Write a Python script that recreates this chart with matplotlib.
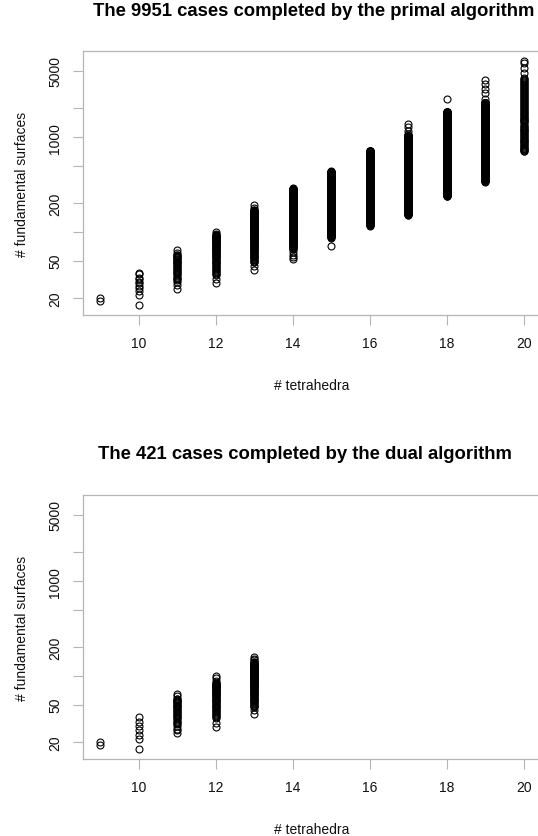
import matplotlib

matplotlib.use("Agg")
import matplotlib.pyplot as plt
from matplotlib.ticker import NullLocator

plt.rcParams["font.family"] = ["Liberation Sans", "DejaVu Sans"]

W, H = 538, 837
GRAY = "#b5b5b5"

tetrahedra = [9, 10, 11, 12, 13, 14, 15, 16, 17, 18, 19, 20]

# solid stacks of counts (every count from low to high shows up), 0 = none
primal_run_low = [0, 0, 30, 35, 48, 66, 87, 117, 152, 240, 347, 0]
primal_run_high = [0, 0, 58, 95, 170, 285, 432, 716, 1035, 1826, 2287, 0]
# separate circles
primal_single = [
    [19, 20],
    [17, 22, 24, 26, 27, 29, 30, 32, 33, 36, 37],
    [25, 28, 60, 64],
    [29, 32, 101],
    [40, 44, 180, 192],
    [52, 55, 58, 61, 290],
    [72, 444],
    [],
    [1077, 1165, 1263, 1367],
    [2541],
    [340, 2541, 2882, 3242, 3660, 4022],
    [705, 715, 728, 740, 755, 770, 785, 800, 820, 840, 860, 880, 900, 920,
     940, 960, 980, 1000, 1025, 1050, 1075, 1100, 1125, 1150, 1175, 1200,
     1230, 1260, 1290, 1320, 1355, 1390, 1425, 1460, 1495, 1530, 1565, 1600,
     1640, 1680, 1720, 1760, 1805, 1850, 1895, 1940, 1990, 2040, 2090, 2140,
     2195, 2250, 2305, 2360, 2420, 2480, 2540, 2600, 2665, 2730, 2800, 2870,
     2940, 3010, 3085, 3160, 3240, 3320, 3405, 3490, 3575, 3660, 3750, 3840,
     3935, 4030, 4125, 4222, 4745, 5342, 5980, 6350],
]

dual_run_low = [0, 0, 30, 36, 47, 0, 0, 0, 0, 0, 0, 0]
dual_run_high = [0, 0, 58, 85, 140, 0, 0, 0, 0, 0, 0, 0]
dual_single = [
    [19, 20],
    [17, 22, 24, 27, 30, 33, 37],
    [25, 27, 28, 61, 64],
    [29, 32, 88, 95, 101],
    [40, 44, 148, 153, 158],
    [], [], [], [], [], [], [],
]

y_ticks = [20, 50, 100, 200, 500, 1000, 2000, 5000]
y_tick_labels = ["20", "50", "", "200", "", "1000", "", "5000"]
x_ticks = [10, 12, 14, 16, 18, 20]


def column_points(run_low, run_high, single):
    xs, ys = [], []
    for x, lo, hi, extra in zip(tetrahedra, run_low, run_high, single):
        vals = list(extra)
        if hi:
            vals += list(range(lo, hi + 1))
        xs += [x] * len(vals)
        ys += vals
    return xs, ys


def draw_panel(fig, top_px, bottom_px, title, title_x, run_low, run_high, single):
    left_px, right_px = 83, 541
    ax = fig.add_axes([left_px / W, 1 - bottom_px / H,
                       (right_px - left_px) / W, (bottom_px - top_px) / H])
    xs, ys = column_points(run_low, run_high, single)
    ax.plot(xs, ys, "o", ms=5, mfc="none", mec="black", mew=0.8, ls="none")

    ax.set_yscale("log")
    ax.set_xlim(8.56, 20.44)
    ax.set_ylim(13.4, 8054)
    ax.yaxis.set_minor_locator(NullLocator())
    ax.set_yticks(y_ticks, y_tick_labels)
    ax.set_xticks(x_ticks, [str(t) for t in x_ticks])
    for spine in ax.spines.values():
        spine.set_color(GRAY)
        spine.set_linewidth(0.9)
    # the right edge of the box falls outside the saved picture
    ax.spines["right"].set_visible(False)
    ax.tick_params(direction="out", length=7, width=0.8, color=GRAY,
                   labelsize=10, labelcolor="#111111")
    ax.tick_params(axis="x", pad=13.5)
    ax.tick_params(axis="y", pad=13.0)
    for lbl in ax.get_yticklabels():
        lbl.set_rotation(90)
        lbl.set_ha("center")
        lbl.set_va("center")
    for lbl in ax.get_xticklabels():
        lbl.set_va("center")

    fig.text(title_x / W, 1 - (top_px - 41) / H, title, ha="center",
             va="center", fontsize=13.3, fontweight="bold")
    fig.text(312 / W, 1 - (bottom_px + 70) / H, "# tetrahedra", ha="center",
             va="center", fontsize=10, color="#111111")
    fig.text(22 / W, 1 - ((top_px + bottom_px) / 2) / H, "# fundamental surfaces",
             ha="center", va="center", rotation=90, fontsize=10, color="#111111")
    return ax


fig = plt.figure(figsize=(W / 100, H / 100), dpi=100)
draw_panel(fig, 52, 316, "The 9951 cases completed by the primal algorithm", 314,
           primal_run_low, primal_run_high, primal_single)
draw_panel(fig, 496, 760, "The 421 cases completed by the dual algorithm", 304.5,
           dual_run_low, dual_run_high, dual_single)
fig.savefig("out.png", dpi=100)
